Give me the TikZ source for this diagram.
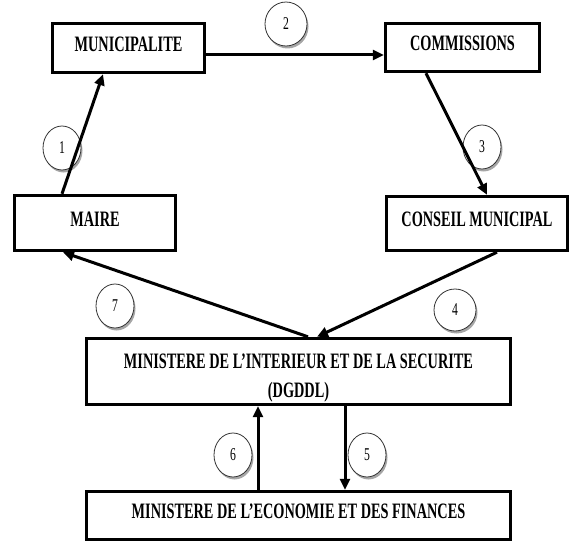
\documentclass[tikz,border=0pt]{standalone}
\usepackage{fontspec}
\setmainfont{Liberation Serif}[FakeStretch=0.65]
\usetikzlibrary{shapes.geometric, arrows.meta, shadows}
\tikzstyle{arrow} = [line width=3pt,-{Triangle[length=11pt,width=10pt]}]
\tikzstyle{box} = [rectangle, draw, line width=3.4pt, inner sep=0pt, font=\fontsize{22}{28}\selectfont\bfseries, text height=14.5pt, text depth=8pt]
\tikzstyle{num} = [ellipse, draw=black!80, line width=0.8pt, fill=white, inner sep=0pt, minimum width=38pt, minimum height=44pt, font=\fontsize{18}{18}\selectfont, drop shadow={shadow xshift=1.5pt, shadow yshift=-2.5pt, fill=black!35, opacity=1}]

\begin{document}
\begin{tikzpicture}[x=1pt, y=-1pt]

\useasboundingbox (0,0) rectangle (571,543);

% top

\node[box, minimum width=152pt, minimum height=49pt] (municipalite) at (128.5,48) {MUNICIPALITE};
\node[box, minimum width=154pt, minimum height=48pt] (commissions) at (462.5,47.5) {COMMISSIONS};
\node[box, minimum width=161pt, minimum height=55pt] (maire) at (95,223) {MAIRE};
\node[box, minimum width=181pt, minimum height=54pt] (conseil_mun) at (477,223.5) {CONSEIL MUNICIPAL};

% ministeres

\node[box, align=center, minimum width=424pt, minimum height=66pt, text height=, text depth=] (min_interieur) at (298.5,371.5) {\rule{0pt}{27pt}MINISTERE DE L’INTERIEUR ET DE LA SECURITE\\[1pt](DGDDL)};
\node[box, minimum width=424pt, minimum height=48pt] (min_finances) at (298.5,515.5) {MINISTERE DE L’ECONOMIE ET DES FINANCES};

% numbers

\node[num] (num_1) at (62,148) {1};
\node[num, minimum width=42pt] (num_2) at (286,24) {2};
\node[num] (num_3) at (482,147) {3};
\node[num, minimum width=42pt, minimum height=42pt] (num_4) at (455,310) {4};
\node[num] (num_5) at (367,455) {5};
\node[num] (num_6) at (233,455) {6};
\node[num] (num_7) at (115,306) {7};

% arrows

\draw [arrow] ([xshift=-33pt]maire.north) -- ([xshift=-25.5pt]municipalite.south);
\draw [arrow] ([yshift=-7pt]municipalite.east) -- ([yshift=-7.5pt]commissions.west);
\draw [arrow] ([xshift=-36.5pt]commissions.south) -- ([xshift=10pt]conseil_mun.north);
\draw [arrow] ([xshift=20pt]conseil_mun.south) -- ([xshift=18.5pt]min_interieur.north);
\draw [arrow] ([xshift=46.5pt]min_interieur.south) -- ([xshift=46.5pt]min_finances.north);
\draw [arrow] ([xshift=-40.5pt]min_finances.north) -- ([xshift=-40.5pt]min_interieur.south);
\draw [arrow] ([xshift=9.5pt]min_interieur.north) -- ([xshift=-32pt]maire.south);

\end{tikzpicture}
\end{document}
